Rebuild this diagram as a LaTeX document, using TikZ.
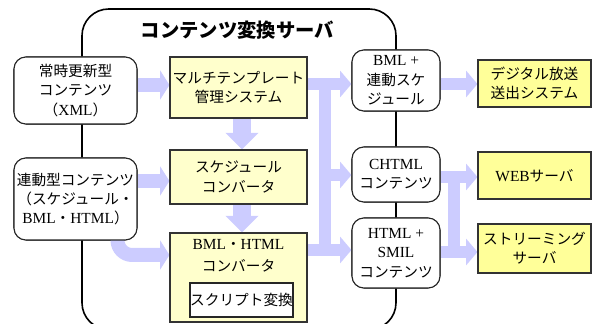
\documentclass[tikz,border=0pt]{standalone}
\usepackage{fontspec}
\setmainfont{Liberation Serif}
\newfontfamily\jp{Noto Sans CJK JP}
\newfontfamily\lat{Liberation Serif}[Scale=1.05]
\usetikzlibrary{arrows.meta,calc}
\newdimen\px \px=0.75pt
\definecolor{arrowc}{RGB}{204,204,255}
\definecolor{ylight}{RGB}{255,255,204}
\definecolor{ydark}{RGB}{255,255,153}
\begin{document}
\begin{tikzpicture}[x=0.75pt,y=-0.75pt,
  txt/.style={font=\jp\fontsize{11}{14.5}\selectfont, align=center, inner sep=0pt},
  rbox/.style={txt, draw=black!85, line width=0.8pt, fill=white, rounded corners=9pt},
  ybox/.style={txt, draw=black!80, line width=0.8pt, fill=ylight},
  ydbox/.style={txt, draw=black!80, line width=0.8pt, fill=ydark},
  frame/.style={draw=black, line width=1.2pt, rounded corners=20pt},
  fatL/.style={color=arrowc, line width=10.5pt, -{Triangle[width=22pt,length=7pt,line width=0pt]}},
  fatV/.style={color=arrowc, line width=13pt, -{Triangle[width=25pt,length=12.5pt,line width=0pt]}},
  fatM/.style={color=arrowc, line width=9pt, -{Triangle[width=20pt,length=8.5pt,line width=0pt]}},
  fatbar/.style={fill=arrowc}
]
\clip (0,0) rectangle (593,324);
% frame
\draw[frame] (82,9) rectangle (396,329.5);
% coordinates for connector rows / columns
\coordinate (yA) at (0,85);
\coordinate (yB) at (0,181);
\coordinate (yC) at (0,255);
\coordinate (yD) at (0,84);
\coordinate (yE) at (0,175);
\coordinate (yF) at (0,250);
\coordinate (yG) at (0,84);
\coordinate (yH) at (0,177);
\coordinate (yI) at (0,252);
\coordinate (xV) at (242,0);
\coordinate (xJ) at (325,0);
\coordinate (xK) at (454,0);
\coordinate (cstart) at (117.5,232);
% nodes (drawn later on top), define positions first via path
\path
  node[rbox, minimum width=123\px, minimum height=67\px] (box1) at (75.5,90.5) {}
  node[rbox, minimum width=123\px, minimum height=82\px] (box2) at (75.5,199) {}
  node[ybox, minimum width=137\px, minimum height=61\px] (m1) at (238.5,87.5) {}
  node[ybox, minimum width=137\px, minimum height=54\px] (m2) at (238.5,177) {}
  node[ybox, minimum width=137\px, minimum height=89\px] (m3) at (238.5,277.5) {}
  node[rbox, minimum width=88\px, minimum height=61\px] (b1) at (396,80.5) {}
  node[rbox, minimum width=88\px, minimum height=55\px] (b2) at (396,174.5) {}
  node[rbox, minimum width=88\px, minimum height=70\px] (b3) at (396,253) {}
  node[ydbox, minimum width=113\px, minimum height=47\px] (r1) at (534.5,83.5) {}
  node[ydbox, minimum width=113\px, minimum height=47\px] (r2) at (534.5,175.5) {}
  node[ydbox, minimum width=113\px, minimum height=49\px] (r3) at (534.5,248.5) {};
% fat arrows
\draw[fatL] (box1.east |- yA) -- (m1.west |- yA);
\draw[fatL] (box2.east |- yB) -- (m2.west |- yB);
\draw[fatL, rounded corners=11pt] (cstart) -- (cstart |- yC) -- (m3.west |- yC);
\draw[fatV] (m1.south -| xV) -- (m2.north -| xV);
\draw[fatV] (m2.south -| xV) -- (m3.north -| xV);
\fill[fatbar] ($(xJ |- yD)+(-6,-6)$) rectangle ($(xJ |- yF)+(6,6)$);
\draw[fatM] (m1.east |- yD) -- (b1.west |- yD);
\draw[fatM] (xJ |- yE) -- (b2.west |- yE);
\draw[fatM] (m3.east |- yF) -- (b3.west |- yF);
\fill[fatbar] ($(xK |- yH)+(-6,-6)$) rectangle ($(xK |- yI)+(6,6)$);
\draw[fatM] (b1.east |- yG) -- (r1.west |- yG);
\draw[fatM] (b2.east |- yH) -- (r2.west |- yH);
\draw[fatM] (b3.east |- yI) -- (r3.west |- yI);
% boxes with text
\node[rbox, minimum width=123\px, minimum height=67\px] (box1) at (75.5,90.5)
  {常時更新型\\コンテンツ\\（{\lat XML}）};
\node[rbox, minimum width=123\px, minimum height=82\px] (box2) at (75.5,199)
  {連動型コンテンツ\\（スケジュール・\\{\lat BML}・{\lat HTML}）};
\node[ybox, minimum width=137\px, minimum height=61\px] (m1) at (238.5,87.5)
  {マルチテンプレート\\管理システム};
\node[ybox, minimum width=137\px, minimum height=54\px] (m2) at (238.5,177)
  {スケジュール\\コンバータ};
\node[ybox, minimum width=137\px, minimum height=89\px] (m3) at (238.5,277.5) {};
\node[txt] (m3t) at (238.5,256) {{\lat BML}・{\lat HTML}\\[2pt]コンバータ};
\node[txt, draw=black!85, line width=0.8pt, fill=white, minimum width=103\px, minimum height=34\px] (s1) at (241.5,300) {スクリプト変換};
\node[rbox, minimum width=88\px, minimum height=61\px] (b1) at (396,80.5)
  {{\lat BML +}\\連動スケ\\ジュール};
\node[rbox, minimum width=88\px, minimum height=55\px] (b2) at (396,174.5)
  {{\lat CHTML}\\コンテンツ};
\node[rbox, minimum width=88\px, minimum height=70\px] (b3) at (396,253)
  {{\lat HTML +}\\{\lat SMIL}\\コンテンツ};
\node[ydbox, minimum width=113\px, minimum height=47\px] (r1) at (534.5,83.5)
  {デジタル放送\\送出システム};
\node[ydbox, minimum width=113\px, minimum height=47\px] (r2) at (534.5,175.5)
  {{\lat WEB}サーバ};
\node[ydbox, minimum width=113\px, minimum height=49\px] (r3) at (534.5,248.5)
  {ストリーミング\\サーバ};
% title
\node[font=\jp\fontsize{14.5}{16}\selectfont\bfseries, inner sep=0pt] (title) at (237.5,30) {コンテンツ変換サーバ};
\end{tikzpicture}
\end{document}
